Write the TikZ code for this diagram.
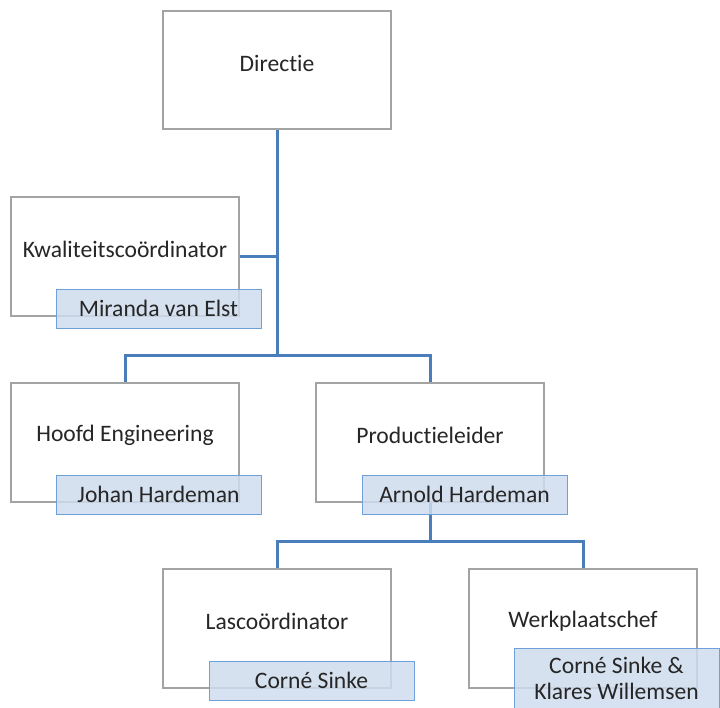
\documentclass[tikz,border=0pt]{standalone}
\usepackage{fontspec}
\setmainfont{Carlito}[RawFeature={-liga;-clig;-dlig}]
\definecolor{conn}{HTML}{4A7EBB}
\definecolor{boxline}{HTML}{A3A3A3}
\definecolor{namefill}{HTML}{CFDCEE}
\definecolor{nameline}{HTML}{6EA0DA}
\definecolor{txt}{HTML}{262626}
\begin{document}
\begin{tikzpicture}[x=1pt,y=-1pt,
  rolebox/.style={draw=boxline,line width=1.2pt,fill=white,minimum width=228pt,minimum height=119pt,inner sep=0pt},
  roletext/.style={text=txt,font=\fontsize{23.6}{25.5}\selectfont,inner sep=0pt,anchor=center,align=center},
  namebox/.style={draw=nameline,line width=1pt,fill=namefill,fill opacity=0.85,text opacity=1,text=txt,minimum width=205pt,minimum height=39pt,inner sep=0pt,font=\fontsize{23.6}{26}\selectfont,align=center},
  connline/.style={draw=conn,line width=3pt}]
\useasboundingbox (0,0) rectangle (720,707);
% role boxes
\node[rolebox,minimum height=118pt] (dir) at (277,70) {};
\node[rolebox] (kwal) at (125,256.5) {};
\node[rolebox] (hoofd) at (125,442.5) {};
\node[rolebox] (prod) at (430,442.5) {};
\node[rolebox] (lasco) at (277,628.5) {};
\node[rolebox] (werk) at (583,628.5) {};
% role titles
\node[roletext] (tdir) at (277,63) {Directie};
\node[roletext] (tkwal) at (125,249) {Kwaliteitscoördinator};
\node[roletext] (thoofd) at (125,435) {Hoofd Engineering};
\node[roletext] (tprod) at (430,435) {Productieleider};
\node[roletext] (tlasco) at (277,621) {Lascoördinator};
\node[roletext] (twerk) at (583,621) {Werkplaatschef};
% connectors
\coordinate (j1) at (277,355);
\coordinate (j2) at (430,541);
\draw[connline] (dir.south) -- (j1);
\draw[connline] (kwal.east) -- (kwal.east -| dir.south);
\draw[connline] (hoofd.north) |- (j1) -| (prod.north);
\draw[connline] (prod.south) -- (j2);
\draw[connline] (lasco.north) |- (j2) -| (werk.north);
% name boxes
\node[namebox] (nkwal) at (158.5,308.5) {Miranda van Elst};
\node[namebox] (nhoofd) at (158.5,494.5) {Johan Hardeman};
\node[namebox] (nprod) at (464.5,494.5) {Arnold Hardeman};
\node[namebox] (nlasco) at (311.5,680.5) {Corné Sinke};
\node[namebox,minimum height=68pt] (nwerk) at (616.5,682) {};
\node[roletext] (twerkname) at (616.5,678.5) {Corné Sinke \&\\Klares Willemsen};
\end{tikzpicture}
\end{document}
